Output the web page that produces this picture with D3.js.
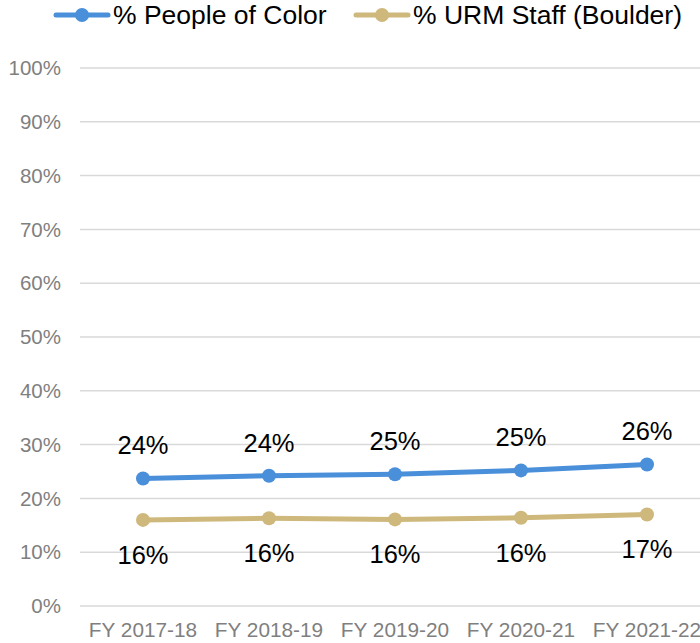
<!DOCTYPE html>
<html>
<head>
<meta charset="utf-8">
<script src="https://cdn.jsdelivr.net/npm/d3@7"></script>
<style>
  body { margin: 0; background: #fff; }
  svg { display: block; font-family: "Liberation Sans", Arial, sans-serif; }
</style>
</head>
<body>
<div id="chart"></div>
<script>
var categories = ["FY 2017-18", "FY 2018-19", "FY 2019-20", "FY 2020-21", "FY 2021-22"];
var peopleOfColor = [23.7, 24.2, 24.5, 25.2, 26.3];
var urmStaff = [16.0, 16.3, 16.1, 16.4, 17.0];
var pocLabels = ["24%", "24%", "25%", "25%", "26%"];
var urmLabels = ["16%", "16%", "16%", "16%", "17%"];
var yTicks = [0, 10, 20, 30, 40, 50, 60, 70, 80, 90, 100];

var width = 700, height = 643;
var blue = "#4a8fd9", gold = "#cfb87c";

var svg = d3.select("#chart").append("svg")
    .attr("width", width)
    .attr("height", height);

var x = d3.scaleBand().domain(categories).range([80, 710]);
var y = d3.scaleLinear().domain([0, 100]).range([606, 68]);

function cx(d) { return x(d) + x.bandwidth() / 2; }

// gridlines
svg.append("g").selectAll("line")
    .data(yTicks).enter().append("line")
    .attr("x1", 80).attr("x2", width)
    .attr("y1", function(d){ return y(d); })
    .attr("y2", function(d){ return y(d); })
    .attr("stroke", "#d9d9d9")
    .attr("stroke-width", 1.5);

// y labels
svg.append("g").selectAll("text")
    .data(yTicks).enter().append("text")
    .attr("x", 61)
    .attr("y", function(d){ return y(d); })
    .attr("dy", "0.35em")
    .attr("text-anchor", "end")
    .attr("fill", "#7f7f7f")
    .style("font-size", "20.5px")
    .text(function(d){ return d + "%"; });

// x labels
svg.append("g").selectAll("text")
    .data(categories).enter().append("text")
    .attr("x", function(d){ return cx(d); })
    .attr("y", 637)
    .attr("text-anchor", "middle")
    .attr("fill", "#7f7f7f")
    .style("font-size", "20.8px")
    .text(function(d){ return d; });

function drawSeries(values, labels, color, labelOffset) {
    var line = d3.line()
        .x(function(d, i){ return cx(categories[i]); })
        .y(function(d){ return y(d); });
    svg.append("path")
        .datum(values)
        .attr("d", line)
        .attr("fill", "none")
        .attr("stroke", color)
        .attr("stroke-width", 5)
        .attr("stroke-linejoin", "round");
    svg.append("g").selectAll("circle")
        .data(values).enter().append("circle")
        .attr("cx", function(d, i){ return cx(categories[i]); })
        .attr("cy", function(d){ return y(d); })
        .attr("r", 7)
        .attr("fill", color);
    svg.append("g").selectAll("text")
        .data(values).enter().append("text")
        .attr("x", function(d, i){ return cx(categories[i]); })
        .attr("y", function(d){ return y(d) + labelOffset; })
        .attr("dy", "0.35em")
        .attr("text-anchor", "middle")
        .attr("fill", "#000")
        .style("font-size", "25.5px")
        .text(function(d, i){ return labels[i]; });
}

drawSeries(peopleOfColor, pocLabels, blue, -33);
drawSeries(urmStaff, urmLabels, gold, 35);

// legend
var legend = [
    { name: "% People of Color", color: blue, x: 54 },
    { name: "% URM Staff (Boulder)", color: gold, x: 354 }
];
var lg = svg.append("g").selectAll("g")
    .data(legend).enter().append("g")
    .attr("transform", function(d){ return "translate(" + d.x + ",15)"; });
lg.append("line")
    .attr("x1", 2).attr("x2", 54)
    .attr("stroke", function(d){ return d.color; })
    .attr("stroke-width", 5)
    .attr("stroke-linecap", "round");
lg.append("circle")
    .attr("cx", 28).attr("r", 7)
    .attr("fill", function(d){ return d.color; });
lg.append("text")
    .attr("x", 59)
    .attr("dy", "0.35em")
    .attr("fill", "#000")
    .style("font-size", "26.5px")
    .text(function(d){ return d.name; });
</script>
</body>
</html>
